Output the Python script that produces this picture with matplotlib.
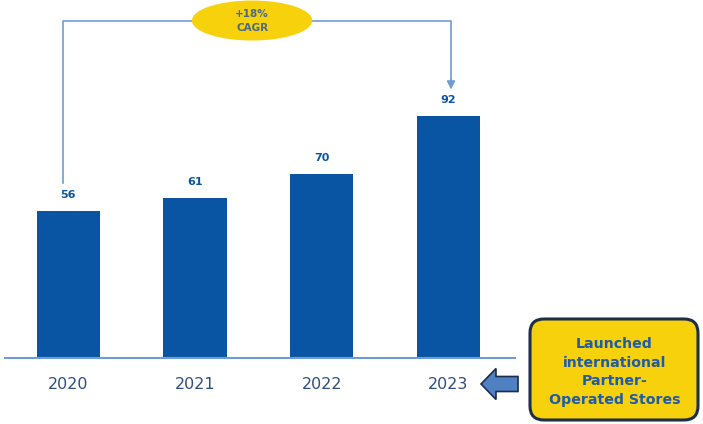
import matplotlib
matplotlib.use("Agg")
import matplotlib.pyplot as plt
from matplotlib.patches import Ellipse, FancyBboxPatch, FancyArrow

years = ["2020", "2021", "2022", "2023"]
values = [56, 61, 70, 92]
cagr_text = "+18%\nCAGR"
callout_text = "Launched\ninternational\nPartner-\nOperated Stores"

bar_color = "#0A55A3"
line_color = "#6F9CD3"
yellow = "#F7D10C"
text_blue = "#1E5BA8"

plt.rcParams['font.family'] = ['DejaVu Sans']

fig = plt.figure(figsize=(7.03, 4.24), dpi=100)
ax = fig.add_axes([5 / 703, 66 / 424, 510 / 703, 358 / 424])
x = list(range(len(years)))
ax.bar(x, values, width=0.5, color=bar_color, zorder=2)
ax.set_xlim(-0.5, 3.525)
ax.set_ylim(0, 136.1)
for s in ["top", "right", "left"]:
    ax.spines[s].set_visible(False)
ax.spines["bottom"].set_color(line_color)
ax.spines["bottom"].set_linewidth(1.5)
ax.set_yticks([])
ax.set_xticks(x)
ax.set_xticklabels(years, fontsize=11.5, color="#2C4F80")
ax.tick_params(axis="x", length=0, pad=14)

for xi, v in zip(x, values):
    ax.text(xi, v + 6, str(v), ha="center", va="center", fontsize=8,
            fontweight="bold", color=bar_color)

# CAGR bracket
top = 128.3
x0, x1 = -0.043, 3.02
ax.plot([x0, x0, x1, x1], [values[0] + 10.5, top, top, values[-1] + 14],
        color=line_color, lw=1.2, clip_on=False, zorder=1)
ax.annotate("", xy=(x1, values[-1] + 9), xytext=(x1, values[-1] + 15),
            arrowprops=dict(arrowstyle="-|>", color=line_color, lw=1.2,
                            mutation_scale=12), annotation_clip=False)
ell = Ellipse((1.45, top), 0.95, 15.2, facecolor=yellow, edgecolor="none",
              zorder=3, clip_on=False)
ax.add_patch(ell)
ax.text(1.45, top, cagr_text, ha="center", va="center", fontsize=7.5,
        fontweight="bold", color="#4A6A82", linespacing=1.5, zorder=4)

# overlay in pixel coords for the callout
ov = fig.add_axes([0, 0, 1, 1], facecolor="none")
ov.set_xlim(0, 703)
ov.set_ylim(424, 0)
ov.axis("off")
box = FancyBboxPatch((530, 319), 168, 101,
                     boxstyle="round,pad=0,rounding_size=14",
                     facecolor=yellow, edgecolor="#1C2E4A", lw=2.2)
ov.add_patch(box)
ov.text(614.5, 372, callout_text, ha="center", va="center", fontsize=10.2,
        fontweight="bold", color=text_blue, linespacing=1.45)
arr = FancyArrow(518, 384, -37, 0, width=15, head_width=31, head_length=15,
                 length_includes_head=True, facecolor="#4F80C2",
                 edgecolor="#1C2E4A", lw=1.2)
ov.add_patch(arr)

fig.savefig("out.png", dpi=100)
